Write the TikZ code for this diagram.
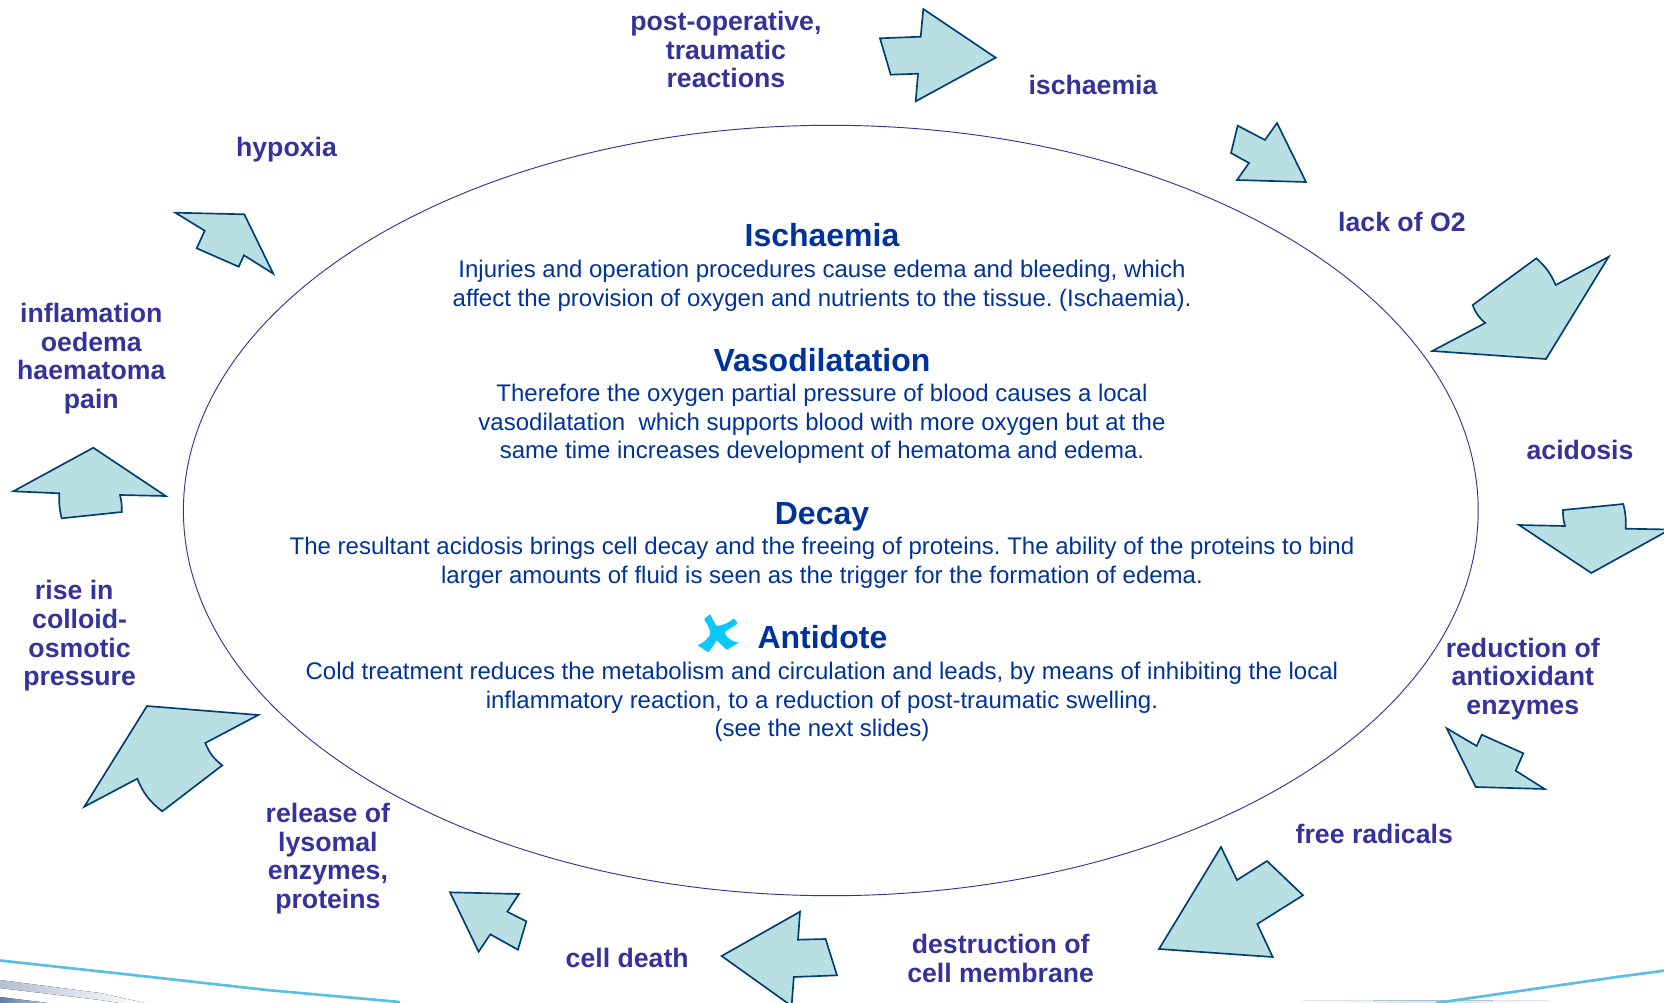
\documentclass[tikz,border=0pt]{standalone}
\usepackage{fontspec}
\setmainfont{Liberation Sans}
\definecolor{labelblue}{HTML}{333399}
\definecolor{bodyblue}{HTML}{003399}
\definecolor{arrowfill}{HTML}{B9DFE3}
\definecolor{arrowline}{HTML}{003F72}
\definecolor{xcyan}{HTML}{0CC8FA}
\definecolor{swoosh}{HTML}{5BBFE3}
\definecolor{bandgray}{HTML}{B4BFD3}
\definecolor{banddark}{HTML}{5F81AB}
\tikzset{
  blockarrow/.style={draw=arrowline,fill=arrowfill,line width=1.25pt,line join=miter,miter limit=10},
  tlabel/.style={text=labelblue,font=\fontsize{20}{21.5}\selectfont\bfseries,align=center,inner sep=0pt},
  thead/.style={text=bodyblue,font=\fontsize{24}{26}\selectfont\bfseries,align=center,inner sep=0pt},
  tbody/.style={text=bodyblue,font=\fontsize{18}{21.5}\selectfont\frenchspacing,align=center,inner sep=0pt},
}
\begin{document}
\begin{tikzpicture}[x=0.75pt,y=-0.75pt]
\useasboundingbox (0,0) rectangle (1664,1003);
\clip (0,0) rectangle (1664,1003);
% bottom swooshes
\fill[left color=bandgray,right color=white] (0,980) -- (100,993) -- (145,1003) -- (120,1003) -- (100,1000) -- (0,988) -- cycle;
\fill[left color=banddark,right color=bandgray] (0,997) -- (48,1003) -- (0,1003) -- cycle;
\draw[swoosh,line width=2pt] (0,960.5) -- (133,975) -- (267,990) -- (400,1002);
\fill[left color=white,right color=swoosh!35] (1300,1001) -- (1440,1000.5) -- (1440,1003) -- (1300,1003) -- cycle;
\fill[left color=swoosh!35,right color=white] (1440,1000.5) -- (1550,1001) -- (1550,1003) -- (1440,1003) -- cycle;
\draw[swoosh,line width=2pt] (1436,1003) -- (1616.7,977) -- (1664,970.7);
% ellipse
\draw[labelblue,line width=0.7pt] (830.8,510.5) ellipse [x radius=647.4,y radius=385.2];
% arrows
\draw[blockarrow] (880,38.3) -- (920.7,36.7) -- (923.3,9) -- (995.7,57.7) -- (915.7,101.3) -- (918,73.7) -- (890.7,74.7) -- cycle;
\draw[blockarrow] (1237.7,125.7) -- (1265,140) -- (1277,123) -- (1306,182) -- (1237,180) -- (1249,163) -- (1231,153) -- cycle;
\draw[blockarrow] (1432.3,351) -- (1485.3,323) to[bend left=15] (1472.7,305) -- (1536.3,258.3) to[bend left=12] (1555.7,285) -- (1608.7,256.7) -- (1546,359) -- cycle;
\draw[blockarrow] (1519,525) -- (1565,526) to[bend left=8] (1563,510) -- (1623.3,504) to[bend left=8] (1625.7,528.7) -- (1670,529.5) -- (1591.3,573) -- cycle;
\draw[blockarrow] (1446.7,728.3) -- (1476.7,746) -- (1481.7,734.7) -- (1523.3,753.3) -- (1515.7,770.7) -- (1544.7,789) -- (1475.7,787) -- cycle;
\draw[blockarrow] (1221,847) -- (1237,880) -- (1267,861) -- (1303,895.3) -- (1257.3,924) -- (1272.7,957) -- (1159,949) -- cycle;
\draw[blockarrow] (800,911.7) -- (798,939.7) -- (825.6,939) -- (837,975.3) -- (793.8,977) -- (791.6,1006) -- (721.6,956) -- cycle;
\draw[blockarrow] (450,892.3) -- (519,894) -- (507.3,911.7) -- (526.4,921.3) -- (517.9,949.7) -- (490.3,934.3) -- (478.6,951.7) -- cycle;
\draw[blockarrow] (147,706) -- (258.3,715) -- (205.3,743) to[bend right=15] (222.3,765.3) -- (162.3,811.3) to[bend left=15] (137.3,778.7) -- (84.3,806.7) -- cycle;
\draw[blockarrow] (93.3,447.7) -- (165.7,496) -- (120,495) to[bend left=8] (121.7,512) -- (61.7,518.3) to[bend left=8] (59.3,493.3) -- (13.3,491.3) -- cycle;
\draw[blockarrow] (175.3,212.7) -- (244.3,214.3) -- (273.3,273.7) -- (244,255.3) -- (238.7,266.7) -- (196.7,248.3) -- (204.7,230.7) -- cycle;
% labels
\node[tlabel] (postop) at (725.9,49.8) {post-operative,\\traumatic\\reactions};
\node[tlabel] (isch) at (1093,84.9) {ischaemia};
\node[tlabel] (lack) at (1401.9,221.8) {lack of O2};
\node[tlabel] (acid) at (1580,450) {acidosis};
\node[tlabel] (redu) at (1522.8,679) {reduction of\\antioxidant\\enzymes};
\node[tlabel] (free) at (1374.3,834) {free radicals};
\node[tlabel] (destr) at (1000.7,958.3) {destruction of\\cell membrane};
\node[tlabel] (death) at (627.2,958.3) {cell death};
\node[tlabel] (relea) at (327.9,858.6) {release of\\lysomal\\enzymes,\\proteins};
\node[tlabel] (rise) at (79.6,636) {rise in\kern 0.4em\\colloid-\\osmotic\\pressure};
\node[tlabel] (infl) at (91.3,358.7) {inflamation\\oedema\\haematoma\\pain};
\node[tlabel] (hypo) at (286.5,150) {hypoxia};
% centre text
\node[thead] (h1) at (822,235.5) {Ischaemia};
\node[tbody] (b1) at (822,286) {Injuries and operation procedures cause edema and bleeding, which\\affect the provision of oxygen and nutrients to the tissue. (Ischaemia).};
\node[thead] (h2) at (822,359.7) {Vasodilatation};
\node[tbody] (b2) at (822,424) {Therefore the oxygen partial pressure of blood causes a local\\vasodilatation\ \ which supports blood with more oxygen but at the\\same time increases development of hematoma and edema.};
\node[thead] (h3) at (822,516.6) {Decay};
\node[tbody] (b3) at (822,562.8) {The resultant acidosis brings cell decay and the freeing of proteins. The ability of the proteins to bind\\larger amounts of fluid is seen as the trigger for the formation of edema.};
\node[thead] (h4) at (822.4,636.7) {Antidote};
\node[tbody] (b4) at (821.9,701.8) {Cold treatment reduces the metabolism and circulation and leads, by means of inhibiting the local\\inflammatory reaction, to a reduction of post-traumatic swelling.\\(see the next slides)};
% antidote mark
\fill[xcyan,rounded corners=0.6pt] (710,614) .. controls (713,620) and (715,624) .. (716.7,626)
  .. controls (724,625) and (730,622) .. (733.7,618) -- (737.7,623.3)
  .. controls (733,627) and (727,630) .. (724.3,632.7)
  .. controls (727,638) and (733,642) .. (739,642.3) -- (726.7,650)
  .. controls (723,646) and (719,643) .. (716.7,640)
  .. controls (714,645) and (711,649) .. (708.3,652.3) -- (697.3,645)
  .. controls (702,644) and (707,639) .. (710,635)
  .. controls (711,630) and (707,624) .. (704,619.3) -- cycle;
\end{tikzpicture}
\end{document}
